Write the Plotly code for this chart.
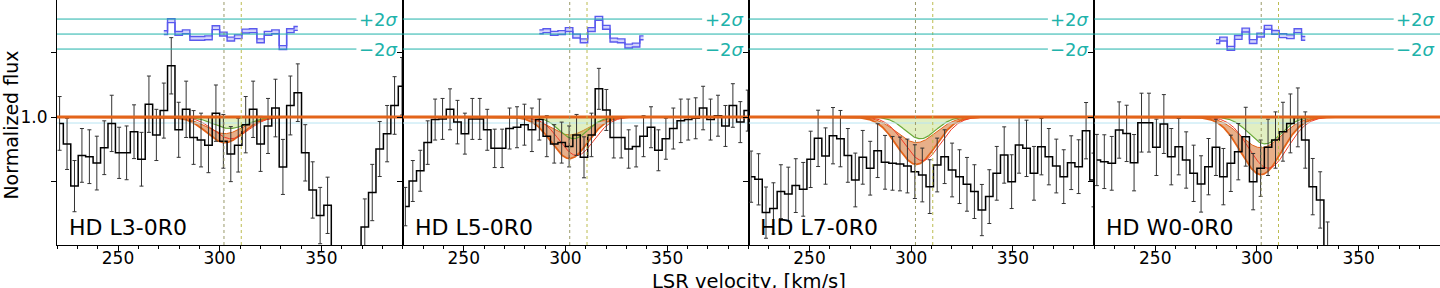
import numpy as np
import plotly.graph_objects as go

# ---------------- data ----------------
velocity = [221.28, 224.94, 228.60, 232.26, 235.92, 239.58, 243.24, 246.90, 250.56, 254.22,
            257.88, 261.54, 265.20, 268.86, 272.52, 276.18, 279.84, 283.50, 287.16, 290.82,
            294.48, 298.14, 301.80, 305.46, 309.12, 312.78, 316.44, 320.10, 323.76, 327.42,
            331.08, 334.74, 338.40, 342.06, 345.72, 349.38, 353.04, 356.70, 360.36, 364.02,
            367.68, 371.34, 375.00, 378.66, 382.32, 385.98, 389.64]

panel_names = ["HD L3-0R0", "HD L5-0R0", "HD L7-0R0", "HD W0-0R0"]

flux_L3 = [0.95, 0.79, 0.46, 0.70, 0.69, 0.64, 0.76, 0.95, 0.72, 0.72,
           0.885, 0.67, 1.10, 0.86, 1.05, 1.40, 0.90, 1.06, 0.84, 0.82,
           0.78, 1.03, 0.81, 0.71, 0.78, 0.94, 1.06, 0.79, 0.93, 1.07,
           0.61, 1.09, 1.19, 0.72, 0.43, 0.23, 0.31, -0.30, -0.35, -0.35,
           -0.30, 0.14, 0.41, 0.75, 0.87, 1.09, 1.24]
err_L3 = [0.21, 0.20, 0.20, 0.21, 0.21, 0.21, 0.21, 0.22, 0.20, 0.21,
          0.21, 0.21, 0.22, 0.20, 0.215, 0.22, 0.215, 0.22, 0.21, 0.21,
          0.215, 0.22, 0.21, 0.215, 0.21, 0.22, 0.22, 0.215, 0.215, 0.225,
          0.215, 0.23, 0.225, 0.22, 0.22, 0.22, 0.22, 0.22, 0.22, 0.22,
          0.22, 0.22, 0.22, 0.215, 0.22, 0.225, 0.225]

flux_L5 = [0.30, 0.50, 0.58, 0.80, 0.98, 0.985, 1.06, 0.96, 0.87, 0.985,
           0.985, 0.90, 0.755, 0.755, 0.91, 0.92, 0.94, 0.90, 0.98, 0.85,
           0.79, 0.80, 0.77, 0.86, 0.685, 0.86, 1.22, 1.055, 0.84, 0.84,
           0.75, 0.77, 0.85, 0.92, 0.74, 0.83, 0.91, 0.97, 0.98, 0.99,
           1.07, 0.98, 1.01, 0.93, 1.09, 0.96, 1.05]
err_L5 = [0.15, 0.16, 0.16, 0.17, 0.16, 0.16, 0.16, 0.17, 0.16, 0.16,
          0.16, 0.16, 0.15, 0.15, 0.16, 0.16, 0.16, 0.17, 0.16, 0.16,
          0.15, 0.16, 0.16, 0.16, 0.16, 0.17, 0.16, 0.16, 0.16, 0.16,
          0.15, 0.16, 0.16, 0.16, 0.16, 0.16, 0.16, 0.17, 0.16, 0.16,
          0.17, 0.16, 0.16, 0.16, 0.17, 0.16, 0.16]

flux_L7 = [0.534, 0.513, 0.253, 0.286, 0.417, 0.398, 0.464, 0.435, 0.669, 0.833,
           0.695, 0.854, 0.831, 0.70, 0.508, 0.685, 0.60, 0.737, 0.646, 0.638,
           0.633, 0.617, 0.573, 0.547, 0.456, 0.625, 0.69, 0.586, 0.534, 0.474,
           0.417, 0.273, 0.378, 0.56, 0.703, 0.495, 0.781, 0.755, 0.56, 0.768,
           0.69, 0.617, 0.534, 0.643, 0.612, 0.893, 0.508]
err_L7 = [0.20, 0.20, 0.20, 0.20, 0.21, 0.21, 0.21, 0.21, 0.22, 0.22,
          0.22, 0.22, 0.22, 0.21, 0.21, 0.21, 0.21, 0.21, 0.21, 0.21,
          0.21, 0.21, 0.21, 0.21, 0.21, 0.21, 0.21, 0.21, 0.21, 0.21,
          0.21, 0.20, 0.21, 0.21, 0.22, 0.21, 0.22, 0.22, 0.21, 0.22,
          0.22, 0.21, 0.21, 0.21, 0.21, 0.22, 0.21]

flux_W0 = [0.664, 0.651, 0.638, 0.898, 0.872, 0.643, 0.956, 0.956, 0.763, 0.945,
           0.69, 0.768, 0.664, 0.56, 0.477, 0.612, 0.763, 0.534, 0.638, 0.729,
           0.846, 0.495, 0.60, 0.763, 0.82, 0.885, 0.95, 0.997, 0.82, 0.456,
           0.352, -0.05]
err_W0 = [0.20, 0.21, 0.21, 0.22, 0.22, 0.22, 0.23, 0.23, 0.22, 0.23,
          0.22, 0.22, 0.22, 0.22, 0.22, 0.22, 0.22, 0.22, 0.22, 0.22,
          0.23, 0.22, 0.22, 0.22, 0.22, 0.23, 0.23, 0.23, 0.22, 0.22,
          0.22, 0.23]

# residuals (in sigma) and the first bin index they start at
resid_start = [14, 18, None, 16]
resid_L3 = [0.18, 1.78, 0.09, 0.3, -0.58, -0.58, -0.5, 0.85, 0.0, -0.67,
            -0.36, 0.4, 0.45, -0.9, 0.1, 0.3, -1.8, 0.45, 0.75]
resid_L5 = [0.3, 0.45, 0.1, 0.2, 0.6, -0.27, -0.9, 0.6, 2.1, 0.9,
            -0.8, -0.9, -1.6, -1.47, -0.5]
resid_L7 = []
resid_W0 = [-1.0, -0.67, -1.9, -0.45, 0.53, -1.0, -0.13, 0.9, 0.22, -0.22,
            -0.36, 0.45, -0.58]

# absorption model parameters (per panel)
orange_center = [302.5, 302.0, 302.5, 302.0]
orange_sigma = [9.0, 9.0, 9.5, 10.0]
orange_depth_lo = [0.20, 0.325, 0.37, 0.45]
orange_depth_hi = [0.13, 0.14, 0.20, 0.24]
green_center = [305.0, 304.0, 304.5, 304.0]
green_sigma = [8.0, 7.0, 7.5, 8.0]
green_depth_lo = [0.09, 0.17, 0.17, 0.21]
green_depth_hi = [0.005, 0.005, 0.005, 0.005]
red_center = [305.5, 305.5, 305.5, 305.5]
red_sigma = [8.5, 8.5, 9.0, 9.5]
red_depth = [0.17, 0.30, 0.34, 0.40]

comp_velocities = [302.1, 310.6]
comp_colors = ["#9a9a6a", "#bcbc50"]

x_range = [220, 390]
y_range = [0, 1.914]
resid_base = 1.648
resid_unit = 0.0586

fluxes = [flux_L3, flux_L5, flux_L7, flux_W0]
errs = [err_L3, err_L5, err_L7, err_W0]
resids = [resid_L3, resid_L5, resid_L7, resid_W0]

FONT = "DejaVu Sans"
ORANGE = "#e3641a"
TEAL = "#20b2aa"
BLUE = "#5a5aee"

fig = go.Figure()
vgrid = np.linspace(x_range[0], x_range[1], 681)


def gauss(v, c, s, a):
    return 1 - a * np.exp(-0.5 * ((v - c) / s) ** 2)


annotations = []
shapes = []
for i in range(4):
    xa = "x" if i == 0 else f"x{i+1}"
    ya = "y" if i == 0 else f"y{i+1}"
    # orange band
    o_lo = gauss(vgrid, orange_center[i], orange_sigma[i], orange_depth_lo[i])
    o_hi = gauss(vgrid, orange_center[i], orange_sigma[i], orange_depth_hi[i])
    fig.add_trace(go.Scatter(x=vgrid, y=o_lo, mode="lines", line=dict(color=ORANGE, width=1.8),
                             xaxis=xa, yaxis=ya, hoverinfo="skip"))
    fig.add_trace(go.Scatter(x=vgrid, y=o_hi, mode="lines", line=dict(color=ORANGE, width=1),
                             fill="tonexty", fillcolor="rgba(214,110,40,0.55)",
                             xaxis=xa, yaxis=ya, hoverinfo="skip"))
    # green band
    g_hi = gauss(vgrid, green_center[i], green_sigma[i], green_depth_hi[i])
    g_lo = gauss(vgrid, green_center[i], green_sigma[i], green_depth_lo[i])
    fig.add_trace(go.Scatter(x=vgrid, y=g_hi, mode="lines", line=dict(color="#7cb342", width=1),
                             xaxis=xa, yaxis=ya, hoverinfo="skip"))
    fig.add_trace(go.Scatter(x=vgrid, y=g_lo, mode="lines", line=dict(color="#6aaa3a", width=1.2),
                             fill="tonexty", fillcolor="rgba(170,210,80,0.35)",
                             xaxis=xa, yaxis=ya, hoverinfo="skip"))
    # red line
    r_line = gauss(vgrid, red_center[i], red_sigma[i], red_depth[i])
    fig.add_trace(go.Scatter(x=vgrid, y=r_line, mode="lines", line=dict(color="#f03c28", width=1),
                             xaxis=xa, yaxis=ya, hoverinfo="skip"))
    # light cyan reference line
    fig.add_trace(go.Scatter(x=x_range, y=[0.953, 0.953], mode="lines",
                             line=dict(color="#b8e4f2", width=1), xaxis=xa, yaxis=ya, hoverinfo="skip"))
    # data
    n = len(fluxes[i])
    fig.add_trace(go.Scatter(x=velocity[:n], y=fluxes[i], mode="lines",
                             line=dict(color="black", width=1.5, shape="hvh"),
                             error_y=dict(type="data", array=errs[i], visible=True,
                                          color="#333333", thickness=1, width=2),
                             xaxis=xa, yaxis=ya, hoverinfo="skip"))
    # residuals
    if resid_start[i] is not None and len(resids[i]) > 0:
        s0 = resid_start[i]
        rv = velocity[s0:s0 + len(resids[i])]
        ry = [resid_base + r * resid_unit for r in resids[i]]
        fig.add_trace(go.Scatter(x=rv, y=[y - 0.015 for y in ry], mode="lines",
                                 line=dict(color=BLUE, width=1.4, shape="hvh"),
                                 xaxis=xa, yaxis=ya, hoverinfo="skip"))
        fig.add_trace(go.Scatter(x=rv, y=[y + 0.015 for y in ry], mode="lines",
                                 line=dict(color=BLUE, width=1.4, shape="hvh"),
                                 fill="tonexty", fillcolor="rgba(110,110,240,0.30)",
                                 xaxis=xa, yaxis=ya, hoverinfo="skip"))
    # continuum
    fig.add_trace(go.Scatter(x=x_range, y=[1.0, 1.0], mode="lines",
                             line=dict(color=ORANGE, width=2.8), xaxis=xa, yaxis=ya, hoverinfo="skip"))

    # dotted component lines
    for cv, cc in zip(comp_velocities, comp_colors):
        shapes.append(dict(type="line", xref=xa, yref=f"{ya} domain", x0=cv, x1=cv, y0=0, y1=1,
                           line=dict(color=cc, width=1, dash="dot")))
    # sigma lines
    for k, frac in [(2, 0.866), (0, 1.0), (-2, 0.866)]:
        yy = resid_base + k * resid_unit
        shapes.append(dict(type="line", xref=f"{xa} domain", yref=ya, x0=0, x1=frac, y0=yy, y1=yy,
                           line=dict(color=TEAL, width=1)))
    annotations.append(dict(text="+2<i>σ</i>", xref=f"{xa} domain", yref=ya, x=0.992,
                            y=resid_base + 2 * resid_unit, xanchor="right", yanchor="middle",
                            showarrow=False, font=dict(family=FONT, size=18, color=TEAL)))
    annotations.append(dict(text="−2<i>σ</i>", xref=f"{xa} domain", yref=ya, x=0.992,
                            y=resid_base - 2 * resid_unit, xanchor="right", yanchor="middle",
                            showarrow=False, font=dict(family=FONT, size=18, color=TEAL)))
    annotations.append(dict(text=panel_names[i], xref=xa, yref=ya, x=224.8, y=0.1375,
                            xanchor="left", yanchor="middle", showarrow=False,
                            font=dict(family=FONT, size=22, color="black")))

annotations.append(dict(text="LSR velocity, [km/s]", xref="paper", yref="paper", x=0.5, y=-0.148,
                        xanchor="center", yanchor="middle", showarrow=False,
                        font=dict(family=FONT, size=19.5, color="black")))
annotations.append(dict(text="Normalized flux", xref="paper", yref="paper", x=-0.0335, y=0.49,
                        xanchor="center", yanchor="middle", textangle=-90, showarrow=False,
                        font=dict(family=FONT, size=19, color="black")))

layout = dict(width=1440, height=288, margin=dict(l=57, r=0, t=0, b=43),
              plot_bgcolor="white", paper_bgcolor="white", showlegend=False,
              annotations=annotations, shapes=shapes)
for i in range(4):
    xk = "xaxis" if i == 0 else f"xaxis{i+1}"
    yk = "yaxis" if i == 0 else f"yaxis{i+1}"
    ya = "y" if i == 0 else f"y{i+1}"
    xa = "x" if i == 0 else f"x{i+1}"
    layout[xk] = dict(domain=[i / 4, (i + 1) / 4], range=x_range, anchor=ya,
                      tickvals=[250, 300, 350], ticks="outside", ticklen=6, tickwidth=1,
                      tickcolor="black", showline=True, linecolor="black", linewidth=1,
                      mirror=True, showgrid=False, zeroline=False, ticklabelstandoff=-8,
                      tickfont=dict(family=FONT, size=17, color="black"),
                      minor=dict(dtick=10, tick0=0, ticks="outside", ticklen=3,
                                 tickcolor="black", showgrid=False))
    layout[yk] = dict(domain=[0, 1], range=y_range, anchor=xa,
                      tickvals=[0.5, 1.0, 1.5],
                      ticktext=["", "1.0", ""] if i == 0 else ["", "", ""],
                      ticks="outside", ticklen=5, tickcolor="black",
                      showline=True, linecolor="black", linewidth=1, mirror=True,
                      showgrid=False, zeroline=False,
                      tickfont=dict(family=FONT, size=17, color="black"))
fig.update_layout(**layout)
fig.write_html("out.html", config={"displayModeBar": False},
               post_script="document.body.style.margin='0px';document.body.style.padding='0px';")
